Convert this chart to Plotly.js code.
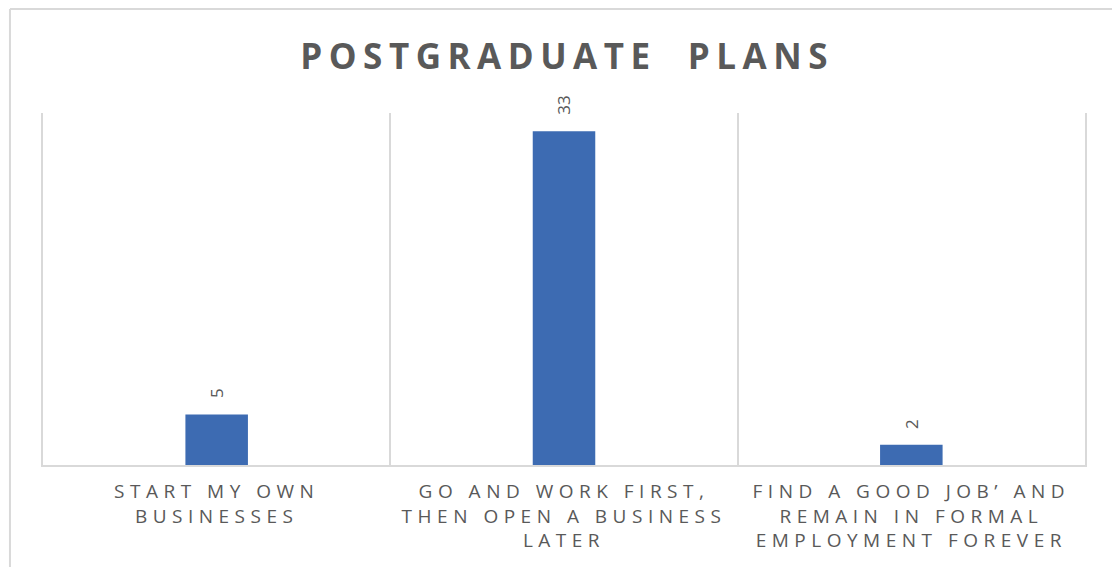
<!DOCTYPE html>
<html>
<head>
<meta charset="utf-8">
<script src="https://cdn.plot.ly/plotly-3.0.1.min.js"></script>
<style>
  html, body { margin: 0; padding: 0; background: #ffffff; }
  #chart { width: 1112px; height: 567px; }
  .gtitle { letter-spacing: 6.5px; }
  .xtick text { letter-spacing: 5.5px; }
</style>
</head>
<body>
<div id="chart"></div>
<script>
const categories = [
  "START MY OWN<br>BUSINESSES",
  "GO AND WORK FIRST,<br>THEN OPEN A BUSINESS<br>LATER",
  "FIND A GOOD JOB’ AND<br>REMAIN IN FORMAL<br>EMPLOYMENT FOREVER"
];
const values = [5, 33, 2];
const chartTitle = "POSTGRADUATE  PLANS";

const positions = categories.map((c, i) => i);
const gridColor = "#d9d9d9";
const textColor = "#595959";

const trace = {
  type: "bar",
  x: positions,
  y: values,
  width: 0.18,
  marker: { color: "#3d6bb2", line: { width: 0 } },
  hoverinfo: "none"
};

const annotations = values.map((v, i) => ({
  x: positions[i],
  y: v,
  xref: "x",
  yref: "y",
  text: String(v),
  showarrow: false,
  textangle: -90,
  xanchor: "center",
  yanchor: "bottom",
  yshift: 14,
  font: { family: "Open Sans, sans-serif", size: 17, color: textColor }
}));

const layout = {
  width: 1112,
  height: 567,
  margin: { l: 43, r: 27, t: 113, b: 102 },
  paper_bgcolor: "#ffffff",
  plot_bgcolor: "#ffffff",
  showlegend: false,
  title: {
    text: chartTitle,
    font: { family: "Open Sans, sans-serif", size: 35, color: textColor, weight: 700 },
    x: 0.510,
    xanchor: "center",
    xref: "container",
    y: 0.9,
    yref: "container",
    yanchor: "middle"
  },
  xaxis: {
    range: [-0.5, categories.length - 0.5],
    tickmode: "array",
    tickvals: positions,
    ticktext: categories,
    ticks: "",
    showgrid: false,
    zeroline: false,
    showline: true,
    linecolor: gridColor,
    linewidth: 2,
    tickfont: { family: "Open Sans, sans-serif", size: 19, color: textColor },
    ticklabelstandoff: 8,
    minor: {
      tickmode: "array",
      tickvals: positions.slice(1).map(p => p - 0.5),
      showgrid: true,
      gridcolor: gridColor,
      gridwidth: 2,
      ticks: ""
    },
    fixedrange: true
  },
  yaxis: {
    range: [0, 34.8],
    showticklabels: false,
    ticks: "",
    showgrid: false,
    zeroline: false,
    showline: true,
    mirror: true,
    linecolor: gridColor,
    linewidth: 2,
    fixedrange: true
  },
  annotations: annotations,
  shapes: [
    { type: "line", xref: "paper", yref: "paper", x0: -0.0317, x1: -0.0317, y0: 1.2955, y1: -0.35,
      line: { color: gridColor, width: 2 }, layer: "below" },
    { type: "line", xref: "paper", yref: "paper", x0: -0.0317, x1: 1.06, y0: 1.2955, y1: 1.2955,
      line: { color: gridColor, width: 2 }, layer: "below" }
  ]
};

Plotly.newPlot("chart", [trace], layout, { displayModeBar: false, staticPlot: true });
</script>
</body>
</html>
